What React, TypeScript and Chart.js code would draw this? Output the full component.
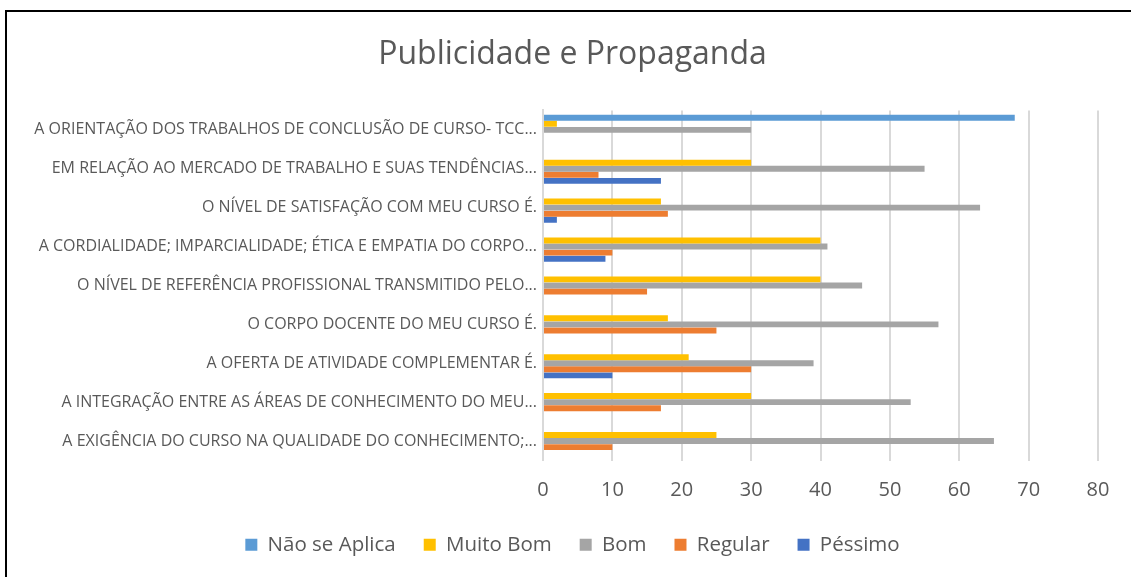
import React, { useEffect, useRef } from "react";
import { Chart, registerables } from "chart.js";

Chart.register(...registerables);

const categories = [
  "A ORIENTAÇÃO DOS TRABALHOS DE CONCLUSÃO DE CURSO- TCC...",
  "EM RELAÇÃO AO MERCADO DE TRABALHO E SUAS TENDÊNCIAS...",
  "O NÍVEL DE SATISFAÇÃO COM MEU CURSO É.",
  "A CORDIALIDADE; IMPARCIALIDADE; ÉTICA E EMPATIA DO CORPO...",
  "O NÍVEL DE REFERÊNCIA PROFISSIONAL TRANSMITIDO PELO...",
  "O CORPO DOCENTE DO MEU CURSO É.",
  "A OFERTA DE ATIVIDADE COMPLEMENTAR É.",
  "A INTEGRAÇÃO ENTRE AS ÁREAS DE CONHECIMENTO DO MEU...",
  "A EXIGÊNCIA DO CURSO NA QUALIDADE DO CONHECIMENTO;...",
];

const naoSeAplica = [68, 0, 0, 0, 0, 0, 0, 0, 0];
const muitoBom = [2, 30, 17, 40, 40, 18, 21, 30, 25];
const bom = [30, 55, 63, 41, 46, 57, 39, 53, 65];
const regular = [0, 8, 18, 10, 15, 25, 30, 17, 10];
const pessimo = [0, 17, 2, 9, 0, 0, 10, 0, 0];

const xTicks = [0, 10, 20, 30, 40, 50, 60, 70, 80];

const FONT = "'Open Sans', Lato, sans-serif";
const TEXT = "#595959";

const widenLabelArea = {
  id: "widenLabelArea",
  afterLayout(chart: any) {
    if (chart.scales.y) chart.scales.y.left = 8;
  },
};

export default function App() {
  const ref = useRef<HTMLCanvasElement | null>(null);

  useEffect(() => {
    if (!ref.current) return;
    const chart = new Chart(ref.current, {
      type: "bar",
      data: {
        labels: categories,
        datasets: [
          { label: "Não se Aplica", data: naoSeAplica, backgroundColor: "#5B9BD5" },
          { label: "Muito Bom", data: muitoBom, backgroundColor: "#FFC000" },
          { label: "Bom", data: bom, backgroundColor: "#A5A5A5" },
          { label: "Regular", data: regular, backgroundColor: "#ED7D31" },
          { label: "Péssimo", data: pessimo, backgroundColor: "#4472C4" },
        ],
      },
      options: {
        indexAxis: "y",
        animation: false,
        responsive: false,
        maintainAspectRatio: false,
        datasets: {
          bar: {
            categoryPercentage: 0.78,
            barPercentage: 0.98,
            borderWidth: 0,
          },
        },
        layout: { padding: { left: 47, right: 33, top: 0, bottom: 12 } },
        scales: {
          x: {
            min: 0,
            max: 80,
            afterBuildTicks: (scale: any) => {
              scale.ticks = xTicks.map((v) => ({ value: v }));
            },
            afterFit: (scale: any) => {
              scale.height = 46;
            },
            grid: { color: "#D9D9D9", lineWidth: 2, drawTicks: false },
            border: { display: false },
            ticks: {
              color: TEXT,
              font: { family: FONT, size: 20 },
              padding: 18,
            },
          },
          y: {
            grid: { display: false, drawTicks: false },
            border: { display: true, color: "#D9D9D9", width: 2 },
            ticks: {
              color: TEXT,
              font: { family: FONT, size: 16 },
              padding: 6,
              autoSkip: false,
            },
            afterFit: (scale: any) => {
              scale.width = 496;
            },
          },
        },
        plugins: {
          title: {
            display: true,
            text: "Publicidade e Propaganda",
            color: TEXT,
            font: { family: FONT, size: 32, weight: "normal" },
            padding: { top: 36, bottom: 36 },
          },
          legend: {
            position: "bottom",
            labels: {
              color: TEXT,
              font: { family: FONT, size: 20.5 },
              boxWidth: 12,
              boxHeight: 12,
              padding: 28,
            },
          },
          tooltip: { enabled: false },
        },
      },
      plugins: [widenLabelArea],
    });
    return () => chart.destroy();
  }, []);

  return (
    <div style={{ position: "absolute", left: 0, top: 0, width: 1131, height: 577, background: "#fff", overflow: "hidden" }}>
      <div
        style={{
          position: "absolute",
          left: 5,
          top: 10,
          width: 1140,
          height: 580,
          borderLeft: "2px solid #000",
          borderTop: "2px solid #000",
        }}
      />
      <canvas ref={ref} width={1131} height={577} style={{ position: "absolute", left: 0, top: 0 }} />
    </div>
  );
}
